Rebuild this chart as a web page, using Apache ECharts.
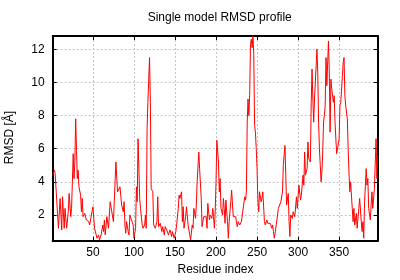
<!DOCTYPE html>
<html>
<head>
<meta charset="utf-8">
<script src="https://cdn.jsdelivr.net/npm/echarts@6/dist/echarts.min.js"></script>
<style>html,body{margin:0;padding:0;background:#fff}#c{width:400px;height:280px}</style>
</head>
<body>
<div id="c"></div>
<script>
const titleText = 'Single model RMSD profile';
const xName = 'Residue index';
const yName = 'RMSD [Å]';

const residues = [
1,3,4,6,8,10,12,13,15,16,18,20,21,23,24,26,27,28,29,30,31,32,33,35,36,37,38,39,40,42,43,45,46,48,50,52,54,55,57,58,60,62,63,64,65,67,69,
71,73,75,76,78,80,81,83,84,85,87,88,89,90,91,93,94,95,97,99,100,102,103,104,105,106,107,108,110,111,113,114,115,116,117,118,119,120,121,123,124,126,128,129,130,132,
134,135,137,138,140,142,144,146,147,149,151,152,154,155,156,158,159,160,161,163,164,166,168,169,171,172,173,175,176,177,179,180,182,183,185,186,188,189,190,192,193,195,196,197,198,199,
200,201,203,204,205,206,208,209,210,211,212,214,215,216,218,219,221,222,224,225,226,227,229,231,232,234,235,236,237,238,239,240,241,242,243,244,245,246,247,248,249,250,251,252,253,255,256,257,259,260,262,263,265,
266,268,269,270,271,272,274,276,277,279,281,282,284,285,286,288,289,290,291,293,294,296,298,299,301,303,304,306,307,308,309,311,312,313,315,316,317,318,319,320,321,322,323,324,325,326,327,328,329,330,331,332,333,
334,335,337,338,339,340,341,343,344,345,346,347,349,350,351,352,354,355,356,357,358,360,361,362,363,364,366,367,368,369,371,372,373,374,375,377,378,379,380,381,383,384,385,386,388,389,390,391,393,394,395,396,397
];
const rmsd = [
4.4,4.7,4.5,2.8,1.2,3.0,1.1,3.1,1.2,2.4,1.2,2.2,3.3,1.9,2.4,5.7,4.2,5.2,7.8,5.9,4.2,4.7,3.7,3.2,2.2,3.0,1.9,1.8,2.1,1.7,1.8,1.6,1.4,1.3,2.5,1.2,0.8,0.6,0.8,0.5,0.8,1.4,1.0,1.7,0.8,1.9,1.2,
2.8,2.9,1.6,2.8,5.2,3.4,3.3,3.7,3.8,2.6,2.2,2.8,1.4,0.9,1.6,1.0,0.8,2.0,1.9,1.4,0.6,1.2,3.7,2.8,6.6,4.8,3.0,2.4,1.4,1.2,1.4,2.0,1.2,7.2,8.8,10.2,11.5,8.8,3.6,3.4,1.4,1.2,1.6,3.1,1.3,1.5,
1.0,1.3,0.8,1.3,1.1,0.8,1.1,0.7,1.0,0.6,1.0,1.4,2.4,3.2,3.0,3.4,1.6,2.5,1.2,1.9,2.5,1.4,0.8,0.5,1.4,1.2,2.4,1.8,2.6,4.0,5.8,4.8,3.0,1.3,1.9,2.0,1.9,1.2,2.7,1.7,2.0,1.8,2.4,1.9,1.2,2.2,
4.0,6.5,5.2,3.4,4.2,2.4,2.0,3.0,2.4,1.5,2.9,1.6,0.6,1.6,2.8,3.5,1.9,1.8,1.9,1.5,1.3,1.6,1.4,1.6,2.0,1.9,3.1,2.9,3.4,7.6,9.0,8.0,9.2,12.3,12.6,12.1,12.8,11.7,7.4,7.0,6.0,4.8,2.9,2.2,3.4,2.8,3.0,3.4,1.6,1.4,1.7,1.5,1.6,
1.5,1.2,1.4,1.0,0.6,0.9,0.8,2.4,2.4,2.8,3.4,5.0,6.2,4.4,2.6,3.3,1.6,0.7,2.0,1.8,2.2,1.9,3.1,2.4,3.8,2.9,3.2,4.4,3.8,5.8,4.4,4.8,6.4,5.4,5.2,8.8,10.8,9.0,7.6,9.0,10.0,11.0,12.0,10.5,7.6,6.0,5.0,4.0,4.6,5.8,7.6,8.0,8.6,
11.5,9.8,12.5,10.7,7.0,10.2,9.6,8.8,9.2,7.6,6.6,5.7,5.6,6.6,8.6,8.8,10.4,11.2,11.5,9.2,8.6,7.8,6.0,4.6,3.4,4.0,2.4,1.6,2.4,1.4,2.1,1.2,1.8,2.4,3.0,1.6,1.0,1.6,0.6,2.8,4.8,3.8,4.2,2.4,1.7,2.6,3.4,2.4,3.6,3.6,6.6,4.2,5.6
];

const xMin = 1, xMax = 397, yMin = 0.45, yMax = 12.8;
const FONT = 'Liberation Sans, Arial, sans-serif';

const chart = echarts.init(document.getElementById('c'), null, {renderer: 'canvas'});
const frameLine = {show: true, onZero: false, lineStyle: {color: '#000', width: 2}};
const tick = {show: true, inside: true, length: 4, lineStyle: {color: '#000', width: 1}};
const grid = {show: true, lineStyle: {color: '#c4c4c4', width: 1, type: [2, 2]}};
const lbl = {fontSize: 12, color: '#000', fontFamily: FONT, showMinLabel: false, showMaxLabel: false};

chart.setOption({
  animation: false,
  backgroundColor: '#fff',
  grid: {left: 52.7, right: 22.3, top: 36, bottom: 39.3, containLabel: false},
  xAxis: [
    {type: 'value', min: xMin, max: xMax, splitNumber: 8, minInterval: 50, maxInterval: 50, position: 'bottom',
     axisLine: frameLine, axisTick: tick, axisLabel: Object.assign({margin: 6}, lbl), splitLine: grid},
    {type: 'value', min: xMin, max: xMax, splitNumber: 8, minInterval: 50, maxInterval: 50, position: 'top',
     axisLine: frameLine, axisTick: tick, axisLabel: {show: false}, splitLine: {show: false}}
  ],
  yAxis: [
    {type: 'value', min: yMin, max: yMax, splitNumber: 6, minInterval: 2, maxInterval: 2, position: 'left',
     axisLine: frameLine, axisTick: tick, axisLabel: Object.assign({margin: 8}, lbl), splitLine: grid},
    {type: 'value', min: yMin, max: yMax, splitNumber: 6, minInterval: 2, maxInterval: 2, position: 'right',
     axisLine: frameLine, axisTick: tick, axisLabel: {show: false}, splitLine: {show: false}}
  ],
  graphic: [
    {type: 'text', x: 219.7, y: 18, style: {text: titleText, font: '12px ' + FONT, fill: '#000', align: 'center', verticalAlign: 'middle'}},
    {type: 'text', x: 215.5, y: 270, style: {text: xName, font: '12px ' + FONT, fill: '#000', align: 'center', verticalAlign: 'middle'}},
    {type: 'text', x: 10, y: 137.5, rotation: Math.PI / 2, style: {text: yName, font: '12px ' + FONT, fill: '#000', align: 'center', verticalAlign: 'middle'}}
  ],
  series: [{
    type: 'line',
    data: residues.map((r, i) => [r, rmsd[i]]),
    showSymbol: false,
    symbol: 'none',
    lineStyle: {color: '#ff0000', width: 1},
    z: 5
  }]
});
</script>
</body>
</html>
